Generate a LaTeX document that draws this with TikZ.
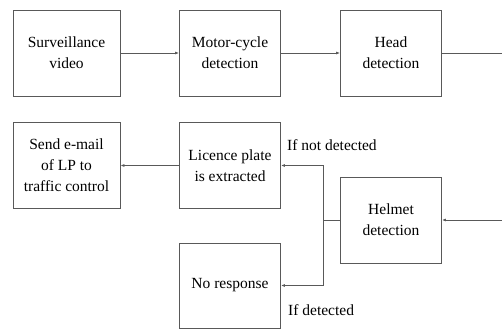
\documentclass[tikz,border=0pt]{standalone}
\usepackage{fontspec}
\setmainfont{Liberation Serif}
\usetikzlibrary{arrows.meta}
\tikzset{
  box/.style={draw=black!65, line width=0.8pt, minimum width=101pt, minimum height=86pt,
    align=center, inner sep=0pt, font=\fontsize{15.5}{21}\selectfont},
  wide/.style={minimum width=107pt},
  lbl/.style={anchor=west, inner sep=0pt, font=\fontsize{15.5}{19}\selectfont},
  arr/.style={draw=black!65, line width=0.8pt, -{Latex[length=4pt,width=3pt]}},
  ln/.style={draw=black!65, line width=0.8pt}
}
\begin{document}
\begin{tikzpicture}[x=1pt,y=-1pt]
  \useasboundingbox (0,0) rectangle (502,329);
  % top row
  \node[box,wide] (surv) at (66.5,53) {Surveillance\\video};
  \node[box] (motor) at (230,53) {Motor-cycle\\detection};
  \node[box] (head) at (391,53) {Head\\detection};
  \coordinate (outR) at (502,53);
  % bottom part
  \node[box,wide] (mail) at (66.5,165.5) {Send e-mail\\of LP to\\traffic control};
  \node[box] (plate) at (230,165.5) {Licence plate\\is extracted};
  \node[box] (helmet) at (391,220) {Helmet\\detection};
  \node[box,minimum height=85pt] (noresp) at (230,285.5) {No response};
  \coordinate (inR) at (502,220);
  \coordinate (split) at (323,220);
  % connectors
  \draw[arr] (surv) -- (motor);
  \draw[arr] (motor) -- (head);
  \draw[ln] (head) -- (outR);
  \draw[arr] (inR) -- (helmet);
  \draw[ln] (helmet) -- (split);
  \draw[arr] (split) |- (plate);
  \draw[arr] (split) |- (noresp);
  \draw[arr] (plate) -- (mail);
  % labels
  \node[lbl] (notdet) at (287,145) {If not detected};
  \node[lbl] (det) at (288,310) {If detected};
\end{tikzpicture}
\end{document}
